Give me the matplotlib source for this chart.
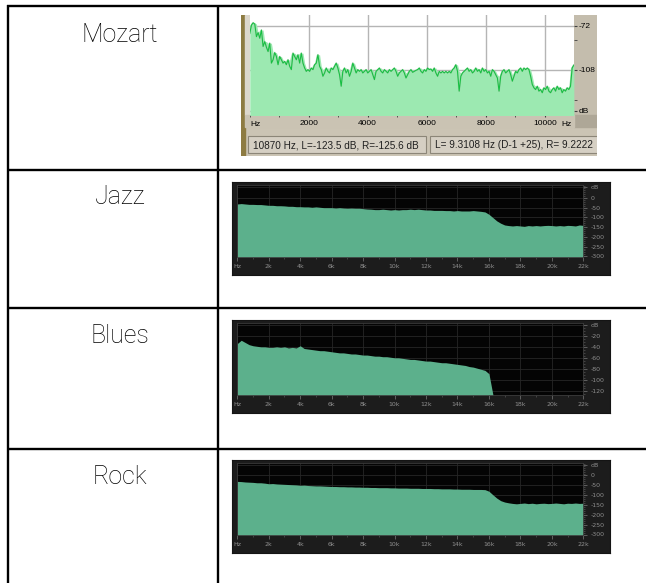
import numpy as np
import pandas as pd
import matplotlib.pyplot as plt
from matplotlib.patches import Rectangle
from matplotlib.lines import Line2D

# Spektra for fire sjangre, tegnet som tabell med etikett til venstre

genres = ["Mozart", "Jazz", "Blues", "Rock"]

# Mozart (Audacity-visning), dB-verdier fra ~10 Hz til ~11 kHz
mozart_db = [
    -78.2, -71.5, -69.6, -70.7, -80.9, -77.6, -82.2, -75.5, -88.9, -84.9,
    -89.5, -93.0, -86.2, -102.4, -99.7, -93.8, -97.0, -103.7, -97.0, -99.7,
    -102.4, -101.0, -103.7, -99.7, -105.0, -107.7, -94.3, -97.0, -99.7, -95.6,
    -102.4, -94.3, -102.4, -106.4, -109.1, -107.7, -109.1, -106.4, -107.7, -103.7,
    -102.4, -95.6, -105.0, -107.7, -113.1, -110.4, -106.4, -109.1, -110.4, -106.4,
    -107.7, -105.0, -102.4, -106.4, -111.8, -121.2, -109.1, -106.4, -110.4, -107.7,
    -113.1, -109.1, -102.4, -106.4, -110.4, -107.7, -109.1, -107.7, -110.4, -109.1,
    -107.7, -110.4, -109.1, -107.7, -111.8, -115.8, -109.1, -107.7, -106.4, -109.1,
    -110.4, -107.7, -109.1, -110.4, -107.7, -109.1, -107.7, -106.4, -109.1, -113.1,
    -110.4, -109.1, -107.7, -110.4, -114.5, -111.8, -109.1, -107.7,
    -109.9, -109.1, -108.3, -107.7, -106.4, -109.1, -110.4, -107.7, -109.1, -106.4,
    -107.7, -107.2, -109.1, -106.4, -110.4, -113.1, -109.1, -110.4, -109.1, -110.4,
    -109.1, -110.4, -109.1, -110.4, -107.7, -106.4, -103.7, -109.1, -125.2, -113.1,
    -110.4, -109.1, -107.7, -106.4, -109.1, -107.7, -110.4, -109.1, -106.4, -109.1,
    -107.7, -110.4, -106.4, -109.1, -107.7, -110.4, -109.1, -113.1, -107.7, -109.1,
    -111.8, -114.5, -125.2, -113.1, -109.1, -107.7, -110.4, -109.1, -107.7, -111.8,
    -117.1, -113.1, -109.1, -110.4, -107.7, -106.4, -109.1, -106.4, -107.7, -106.4,
    -107.7, -113.1, -119.8, -122.5, -123.9, -121.2, -125.2, -123.9, -126.5, -122.5,
    -123.9, -121.2, -125.2, -126.5, -123.9, -122.5, -125.2, -121.2, -123.9, -122.5,
    -126.5, -123.9, -125.2, -122.5, -123.9, -121.2, -106.4, -104.0,
]
mozart_hz = np.linspace(10, 10975, len(mozart_db))

# Jazz / Blues / Rock, en verdi per 0.25 kHz
jazz_db = [
    -31, -29, -31, -33, -33, -34, -34, -36, -38, -38, -40, -40, -41, -43, -43, -45,
    -45, -46, -46, -48, -46, -48, -50, -50, -50, -52, -50, -52, -53, -52, -53, -53,
    -55, -57, -58, -60, -60, -58, -60, -62, -60, -62, -60, -60, -58, -60, -58, -60,
    -62, -62, -64, -64, -64, -65, -65, -67, -65, -67, -67, -67, -65, -67, -69, -72,
    -84, -101, -118, -130, -139, -142, -144, -142, -144, -146, -142, -144, -142, -144,
    -142, -141, -142, -144, -142, -144, -141, -142, -144, -139, -141,
]
blues_db = [
    -33, -27, -31, -35, -37, -38, -39, -39, -40, -40, -39, -40, -39, -41, -40, -41,
    -37, -42, -43, -44, -45, -46, -46, -47, -48, -49, -50, -50, -51, -52, -52, -53,
    -54, -54, -55, -56, -56, -57, -57, -58, -59, -59, -60, -61, -62, -62, -63, -64,
    -65, -65, -66, -67, -68, -68, -69, -70, -71, -72, -73, -75, -76, -78, -80, -82,
    -88, -126,
]
rock_db = [
    -30, -31, -33, -34, -35, -37, -37, -39, -42, -41, -43, -44, -45, -46, -47, -48,
    -50, -49, -51, -52, -53, -53, -54, -55, -56, -56, -57, -57, -58, -58, -59, -59,
    -60, -60, -61, -61, -62, -62, -62, -63, -63, -64, -64, -64, -65, -65, -65, -66,
    -66, -66, -67, -67, -68, -68, -68, -69, -69, -70, -70, -70, -71, -71, -71, -72,
    -80, -98, -115, -128, -135, -139, -142, -144, -142, -140, -143, -141, -144, -142,
    -141, -143, -142, -140, -142, -144, -141, -142, -140, -142, -141,
]

khz_ticks = list(range(0, 23, 2))
khz_labels = ["Hz"] + [f"{k}k" for k in khz_ticks[1:]]

W, H = 646, 583
fig = plt.figure(figsize=(W / 100, H / 100), dpi=100)


def rect(x0, y0, x1, y1):
    # pikselboks (origo oppe til venstre) -> figurkoordinater
    return [x0 / W, 1 - y1 / H, (x1 - x0) / W, (y1 - y0) / H]


def line(xs, ys):
    fig.add_artist(Line2D([x / W for x in xs], [1 - y / H for y in ys],
                          color="black", lw=1.7, transform=fig.transFigure,
                          solid_capstyle="butt"))


# tabellrammer
line([7, 646], [6.3, 6.3])
line([7.8, 7.8], [5.3, 583])
line([218, 218], [5.3, 583])
for y in [169.7, 308.2, 448.5]:
    line([7, 646], [y, y])

for name, base in zip(genres, [41.7, 204.2, 343.2, 483.6]):
    fig.text(120 / W, 1 - base / H, name, ha="center", va="baseline",
             fontsize=18, family=["Roboto", "DejaVu Sans"], weight="light",
             color="black")

# ---- Mozart: Audacity-vindu ----
ui = "Liberation Sans"
chrome = fig.add_axes(rect(241, 15, 597, 156))
chrome.set_xlim(241, 597)
chrome.set_ylim(156, 15)
chrome.axis("off")
chrome.add_patch(Rectangle((241, 15), 356, 141, color="#cbc4b4"))
chrome.add_patch(Rectangle((241, 15), 4, 141, color="#8d7b42"))
chrome.add_patch(Rectangle((245, 15), 4.5, 100, color="#dcd7cc"))
chrome.add_patch(Rectangle((574, 15), 23, 100, color="#c4bdad"))
chrome.add_patch(Rectangle((574, 115), 23, 12, color="#aea797"))
chrome.add_patch(Rectangle((245, 115), 329, 12, color="#cac3b3"))
chrome.add_patch(Rectangle((248.3, 136), 177.5, 17.3, facecolor="#d5cfc3",
                           edgecolor="#8c8678", lw=0.8))
chrome.add_patch(Rectangle((430, 136), 170, 17.3, facecolor="#d5cfc3",
                           edgecolor="#8c8678", lw=0.8))
chrome.text(252.8, 145, "10870 Hz, L=-123.5 dB, R=-125.6 dB", fontsize=7.2,
            va="center", family=ui, color="#202020")
chrome.text(435, 145, "L= 9.3108 Hz (D-1 +25), R= 9.2222", fontsize=7.2,
            va="center", family=ui, color="#202020")
chrome.text(250.5, 124.3, "Hz", fontsize=6, va="center", family=ui)
chrome.text(572, 124.3, "Hz", fontsize=6, va="center", ha="right", family=ui)

mz = fig.add_axes(rect(249.5, 15, 574, 115))
mz.set_facecolor("white")
mz.set_xlim(0, 10981)
mz.set_ylim(-144.6, -63.3)
env = pd.Series(mozart_db).rolling(3, center=True, min_periods=1).max()
mz.fill_between(mozart_hz, env, -150, color="#9ce9b1", lw=0, zorder=2)
mz.plot(mozart_hz, mozart_db, color="#9fb79a", lw=1.2, alpha=0.45, zorder=3)
mz.plot(mozart_hz, mozart_db, color="#14c041", lw=0.75, zorder=4)
mz.set_xticks([2000, 4000, 6000, 8000, 10000])
mz.set_xticklabels(["2000", "4000", "6000", "8000", "10000"], family=ui)
mz.set_xticks([0, 1000, 3000, 5000, 7000, 9000], minor=True)
mz.tick_params(axis="x", which="both", length=1.5, pad=2.0, labelsize=6,
               color="#404040")
mz.yaxis.tick_right()
mz.set_yticks([-72, -108, -141])
mz.set_yticklabels(["-72", "-108", "dB"], family=ui)
mz.set_yticks([-84, -132], minor=True)
mz.tick_params(axis="y", which="both", length=2.2, pad=1, labelsize=6,
               color="#404040")
mz.grid(True, which="major", color="#b5b5b5", lw=1.0)
mz.set_axisbelow(True)
for s in mz.spines.values():
    s.set_visible(False)

# ---- mørke spektra (Jazz, Blues, Rock) ----
teal = "#5cb08c"
dark_label = "#8e8e8e"


def dark_spectrum(top, db, ylim, yticks, ylabels, ystep):
    frame = fig.add_axes(rect(232, top, 610, top + 93))
    frame.set_facecolor("#1c1c1c")
    frame.set_xticks([])
    frame.set_yticks([])
    for s in frame.spines.values():
        s.set_color("#141414")
    frame.text(0.02, 0.88, "Scanned Selection", transform=frame.transAxes,
               fontsize=4.3, color="#444444", va="center")

    ax = fig.add_axes(rect(237.3, top + 3.8, 583.3, top + 75))
    ax.set_facecolor("#040404")
    khz = np.arange(len(db)) * 0.25
    ax.fill_between(khz, db, ylim[0] - 10, color=teal, lw=0, zorder=2)
    ax.set_xlim(0, 22)
    ax.set_ylim(*ylim)
    ax.set_xticks(khz_ticks)
    ax.set_xticklabels(khz_labels)
    ax.set_xticks(range(1, 22, 2), minor=True)
    ax.yaxis.tick_right()
    ax.set_yticks(yticks)
    ax.set_yticklabels(ylabels)
    ax.set_yticks(np.arange(ylim[0] + ystep - ylim[0] % ystep, ylim[1], ystep),
                  minor=True)
    ax.tick_params(which="major", length=3, width=0.6, color="#6a6a6a",
                   labelcolor=dark_label, labelsize=4.5, pad=2.5)
    ax.tick_params(which="minor", length=1.6, width=0.5, color="#555555")
    for lab in ax.get_yticklabels():
        lab.set_horizontalalignment("left")
    ax.grid(True, which="major", color="#262626", lw=0.6)
    ax.set_axisbelow(True)
    for s in ax.spines.values():
        s.set_color("#3a3a3a")
        s.set_linewidth(0.6)


wide_ticks = [55, 0, -50, -100, -150, -200, -250, -300]
wide_labels = ["dB", "0", "-50", "-100", "-150", "-200", "-250", "-300"]
dark_spectrum(181.5, jazz_db, (-301, 65), wide_ticks, wide_labels, 10)
dark_spectrum(319.5, blues_db, (-126, 4),
              [0, -20, -40, -60, -80, -100, -120],
              ["dB", "-20", "-40", "-60", "-80", "-100", "-120"], 5)
dark_spectrum(459.5, rock_db, (-300, 62), wide_ticks, wide_labels, 10)

fig.savefig("out.png", dpi=100)
